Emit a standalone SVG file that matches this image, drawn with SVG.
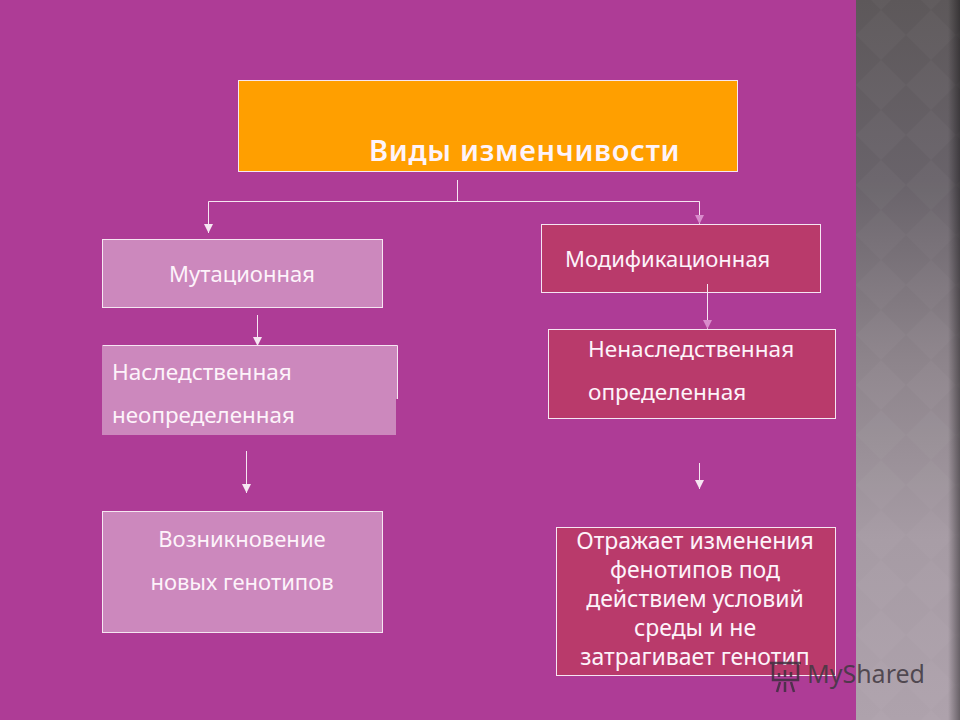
<svg xmlns="http://www.w3.org/2000/svg" width="960" height="720" viewBox="0 0 960 720">
<style>
text{font-family:"Noto Sans","Open Sans","Liberation Sans",sans-serif;fill:#fdf3fa;font-size:22px}
.c{fill:none;stroke:#f6e6f2;stroke-width:1}
.b{stroke:#f6e6f2;stroke-width:1}
.pink{fill:#cc88bd}
.rose{fill:#b93a6b}
.m{text-anchor:middle}
.big{font-size:23px}
.mid{font-size:22.600px}
</style>
<defs>
<linearGradient id="side" x1="0" y1="0" x2="0" y2="1">
<stop offset="0" stop-color="#5d585a"/><stop offset=".25" stop-color="#69636a"/><stop offset=".5" stop-color="#8d848b"/><stop offset=".75" stop-color="#a69ba4"/><stop offset="1" stop-color="#aea2ac"/>
</linearGradient>
<linearGradient id="edge" x1="0" y1="0" x2="1" y2="0">
<stop offset="0" stop-color="#000" stop-opacity="0"/><stop offset="1" stop-color="#000" stop-opacity=".4"/>
</linearGradient>
<pattern id="dia" width="50" height="50" patternUnits="userSpaceOnUse" x="856" y="10">
<path d="M25 0L50 25L25 50L0 25Z" fill="#fff" fill-opacity=".025"/>
</pattern>
<marker id="aw" markerWidth="10" markerHeight="10" refX="9" refY="4.500" orient="auto" markerUnits="userSpaceOnUse"><path d="M0 0L9 4.500L0 9Z" fill="#f6e6f2"/></marker>
<marker id="ap" markerWidth="10" markerHeight="10" refX="9" refY="4.500" orient="auto" markerUnits="userSpaceOnUse"><path d="M0 0L9 4.500L0 9Z" fill="#d98ccc"/></marker>
</defs>
<rect id="background" width="960" height="720" fill="#ae3c96"/>
<g id="side-panel">
<rect x="856" width="104" height="720" fill="url(#side)"/>
<rect x="856" width="104" height="720" fill="url(#dia)"/>
<rect x="948" width="12" height="720" fill="url(#edge)"/>
</g>
<g id="node-title">
<rect class="b" x="238.500" y="80.500" width="499" height="91" fill="#ff9f00"/>
<text x="369" y="161" style="font-size:29px;font-weight:600;letter-spacing:.7px">Виды изменчивости</text>
</g>
<g id="node-mutation">
<rect class="b pink" x="102.500" y="239.500" width="280" height="68"/>
<text class="m" x="242" y="282">Мутационная</text>
</g>
<g id="node-modification">
<rect class="b rose" x="541.500" y="224.500" width="279" height="68"/>
<text x="565" y="267">Модификационная</text>
</g>
<g id="node-hereditary">
<path class="b" d="M102.500 345.500H397.500V399" fill="none"/>
<rect class="pink" x="102" y="346" width="295" height="53"/>
<rect class="pink" x="102" y="399" width="294" height="36"/>
<text class="mid" x="112" y="380">Наследственная</text>
<text x="112" y="423" style="font-size:22.400px">неопределенная</text>
</g>
<g id="node-nonhereditary">
<rect class="b rose" x="548.500" y="329.500" width="287" height="89"/>
<text class="mid" x="588" y="357">Ненаследственная</text>
<text class="mid" x="588" y="400">определенная</text>
</g>
<g id="node-genotypes">
<rect class="b pink" x="102.500" y="511.500" width="280" height="121"/>
<text class="m" x="242" y="547">Возникновение</text>
<text class="m" x="242" y="590">новых генотипов</text>
</g>
<g id="node-phenotypes">
<rect class="b rose" x="556.500" y="527.500" width="279" height="148"/>
<text class="m big" x="695" y="549">Отражает изменения</text>
<text class="m big" x="695" y="578">фенотипов под</text>
<text class="m big" x="695" y="607">действием условий</text>
<text class="m big" x="695" y="636">среды и не</text>
<text class="m big" x="695" y="665">затрагивает генотип</text>
</g>
<g id="connectors">
<path class="c" d="M457.500 180V201.500"/>
<path class="c" d="M699.500 201.500H208.500V233" marker-end="url(#aw)"/>
<path class="c" d="M457.500 201.500H699.500V224" marker-end="url(#ap)"/>
<path class="c" d="M257.500 315V346" marker-end="url(#aw)"/>
<path class="c" d="M707.500 284V329" marker-end="url(#ap)"/>
<path class="c" d="M246.500 451V493" marker-end="url(#aw)"/>
<path class="c" d="M699.500 463V489" marker-end="url(#aw)"/>
</g>
<g id="watermark">
<g fill="none" stroke="#3f2f40" stroke-width="2.500" opacity=".85">
<path d="M770 663H801M773 663V680H798V663M780 682L777 692M785 682V692M791 682L794 692"/>
<path d="M779 677V673M785 677V670M791 677V672"/>
</g>
<text x="807" y="683" style="font-size:25px;fill:#3f3840;fill-opacity:.85">MyShared</text>
</g>
</svg>
